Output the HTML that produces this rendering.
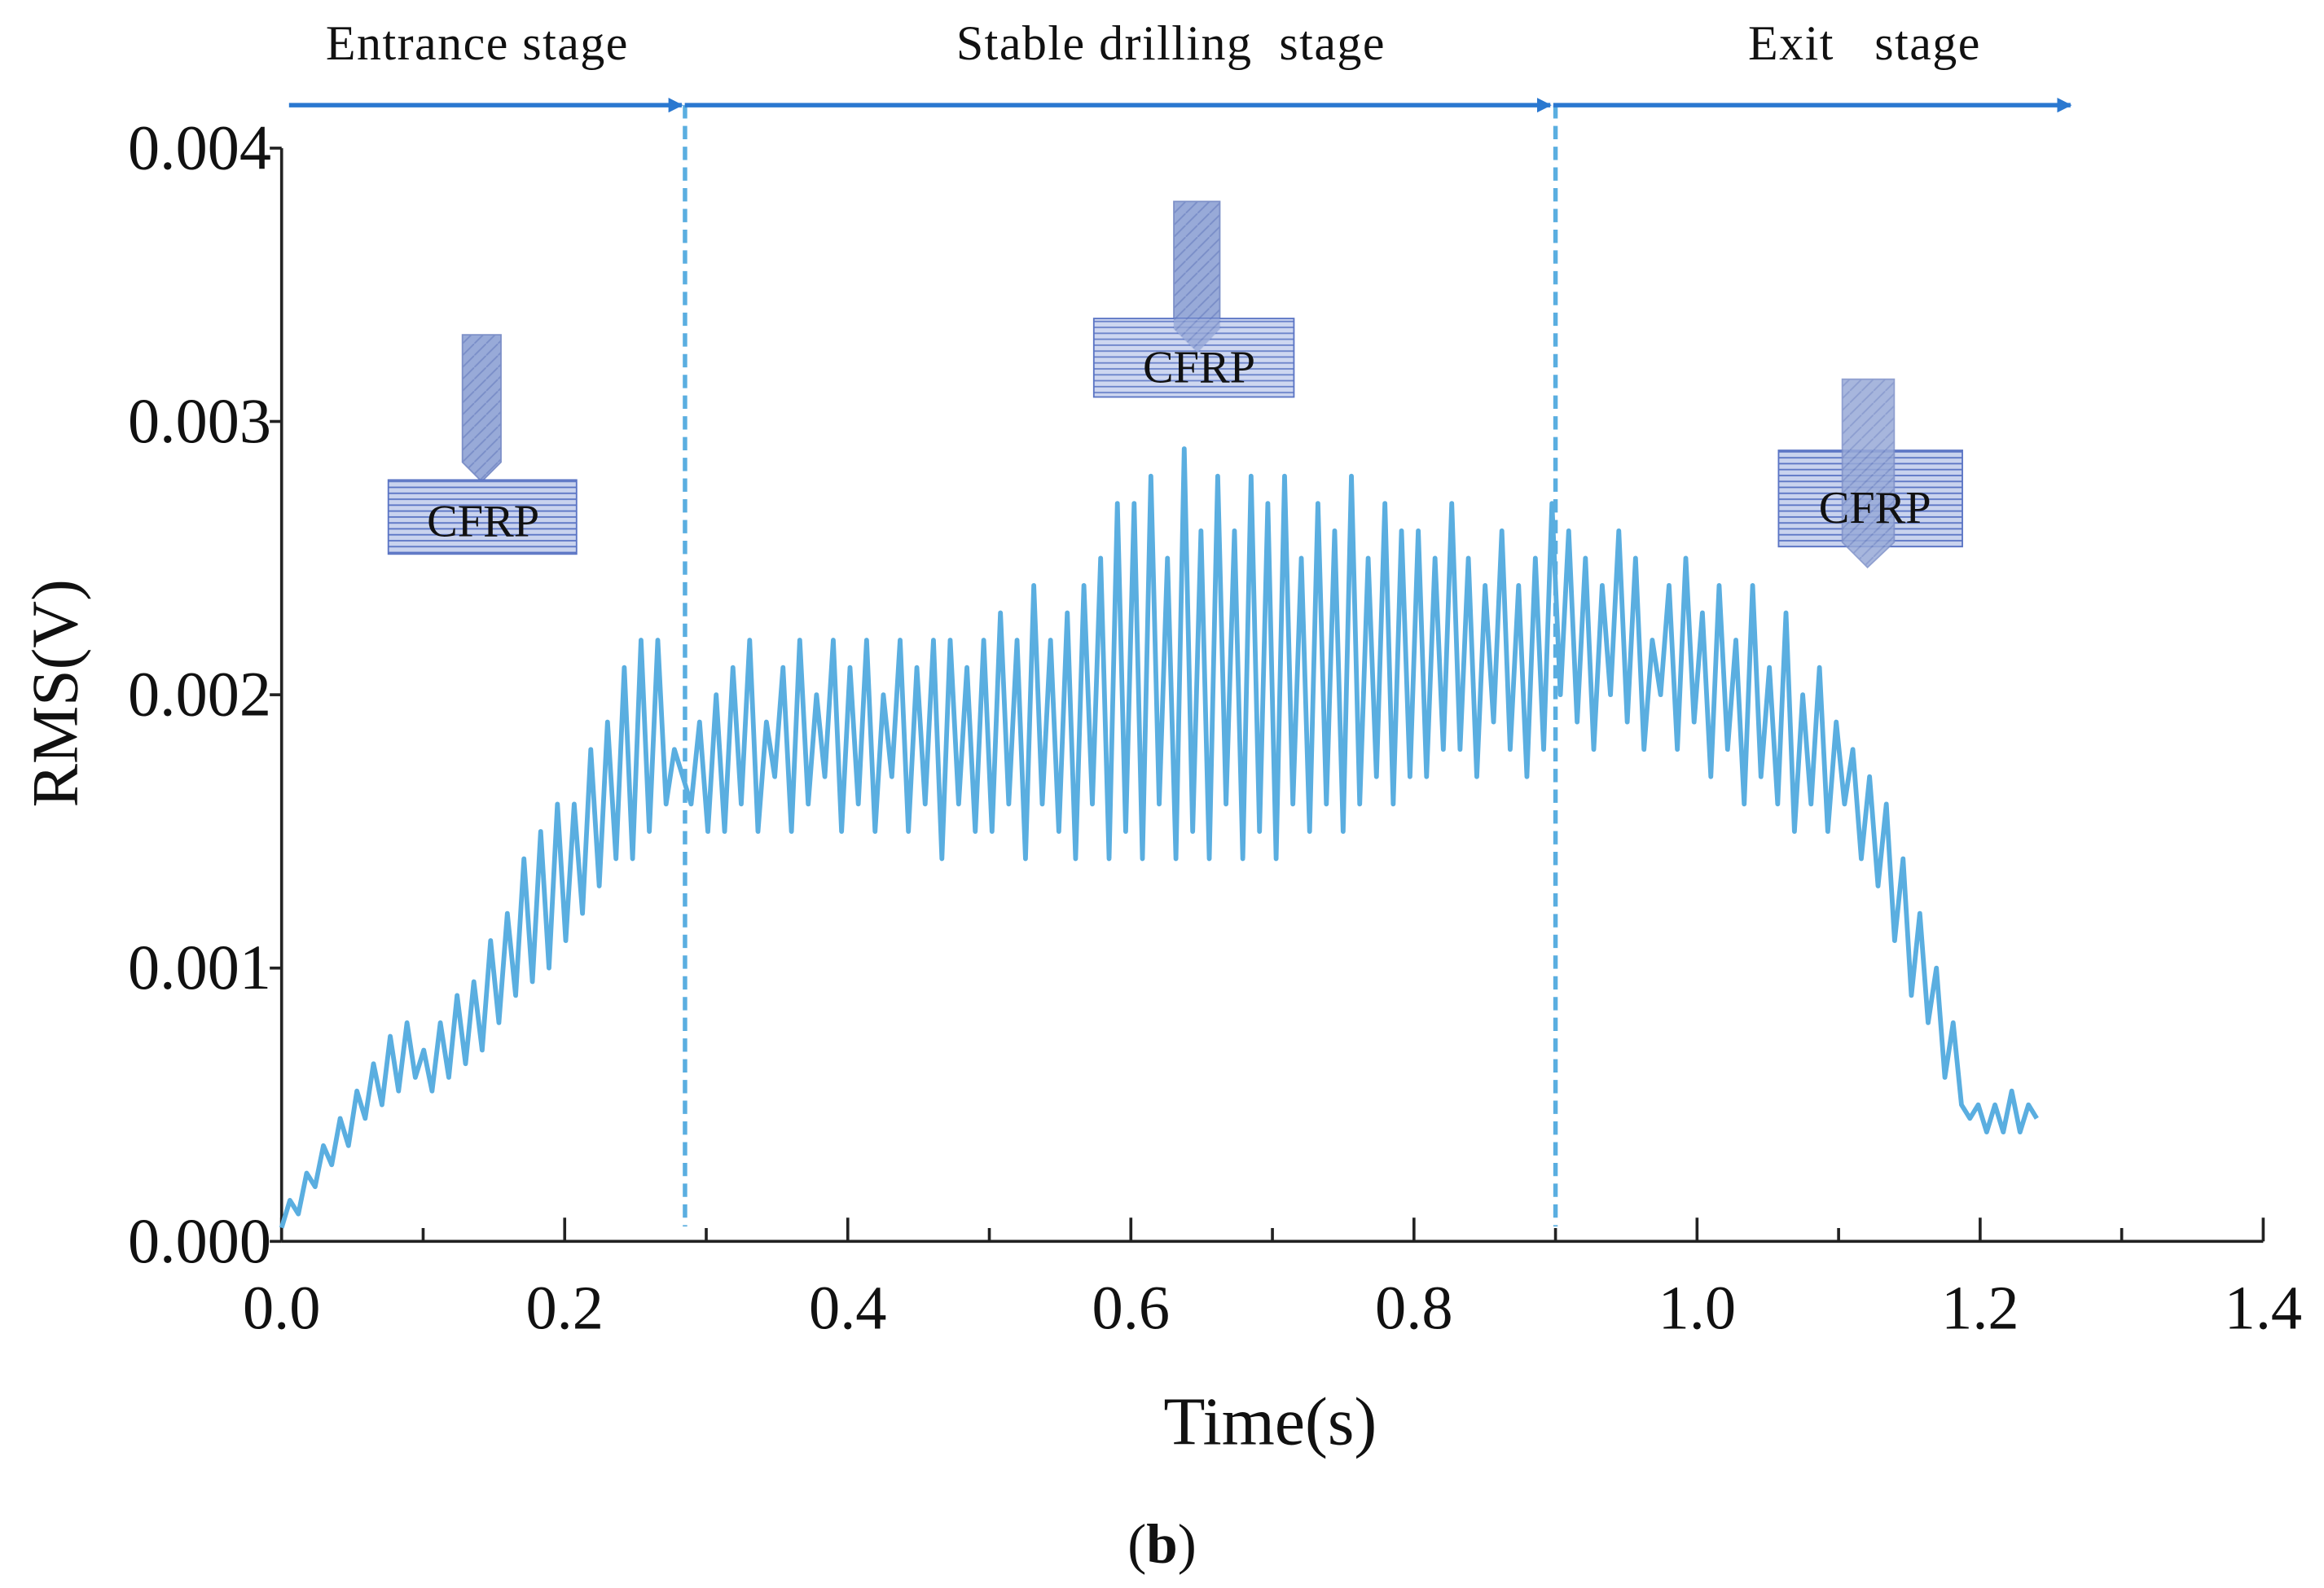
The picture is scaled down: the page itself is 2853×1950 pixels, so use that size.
<!DOCTYPE html>
<html><head><meta charset="utf-8"><style>
html,body{margin:0;padding:0;background:#fff;}
svg{display:block;}
text{font-family:"Liberation Serif",serif;fill:#111;}
</style></head><body>
<svg width="2853" height="1950" viewBox="0 0 1568 1072" preserveAspectRatio="none" xmlns="http://www.w3.org/2000/svg">
<defs>
<pattern id="hl" width="6" height="4" patternUnits="userSpaceOnUse"><rect width="6" height="4" fill="#c9d3ee"/><line x1="0" y1="1" x2="6" y2="1" stroke="#5a74c4" stroke-width="1"/></pattern>
<pattern id="dr" width="8" height="8" patternUnits="userSpaceOnUse"><rect width="8" height="8" fill="#98aad8"/><line x1="0" y1="8" x2="8" y2="0" stroke="#7a8ec8" stroke-width="1"/></pattern>
<marker id="ah" markerWidth="10" markerHeight="10" refX="9" refY="5" orient="auto" markerUnits="userSpaceOnUse"><path d="M0,0 L18,5 L0,10 z" transform="scale(0.55,1)" fill="#2a78d0"/></marker>
</defs>
<g id="axes"></g>
<g id="plot"></g>
<g>
<line x1="195" y1="71" x2="460" y2="71" stroke="#2a78d0" stroke-width="3" marker-end="url(#ah)"/>
<line x1="462" y1="71" x2="1046" y2="71" stroke="#2a78d0" stroke-width="3" marker-end="url(#ah)"/>
<line x1="1048" y1="71" x2="1397" y2="71" stroke="#2a78d0" stroke-width="3" marker-end="url(#ah)"/>
<text x="322" y="40" font-size="33" letter-spacing="0.8" text-anchor="middle">Entrance stage</text>
<text x="790" y="40" font-size="33" letter-spacing="0.8" text-anchor="middle" xml:space="preserve">Stable drilling  stage</text>
<text x="1258" y="40" font-size="33" letter-spacing="0.8" text-anchor="middle" xml:space="preserve">Exit   stage</text>
</g>
<g>
<path d="M312,226 L338,226 L338,312 L325,325 L312,312 Z" fill="url(#dr)" stroke="#7d90c8"/>
<rect x="262" y="324" width="127" height="50" fill="url(#hl)" stroke="#5a74c4"/>
<text x="326" y="362" font-size="31" text-anchor="middle">CFRP</text>
</g>
<g>
<path d="M792,136 L823,136 L823,222 L808,238 L792,222 Z" fill="url(#dr)" stroke="#7d90c8"/>
<rect x="738" y="215" width="135" height="53" fill="url(#hl)" fill-opacity="0.9" stroke="#5a74c4"/>
<path d="M792,215 L823,215 L823,222 L808,238 L792,222 Z" fill="url(#dr)" opacity="0.8"/>
<text x="809" y="258" font-size="31" text-anchor="middle">CFRP</text>
</g>
<g>
<rect x="1200" y="304" width="124" height="65" fill="url(#hl)" stroke="#5a74c4"/>
<path d="M1243,256 L1278,256 L1278,366 L1260,383 L1243,366 Z" fill="url(#dr)" opacity="0.85" stroke="#7d90c8"/>
<text x="1265" y="353" font-size="31" text-anchor="middle">CFRP</text>
</g>
<text x="857" y="975" font-size="46" text-anchor="middle">Time(s)</text>
<text x="0" y="0" font-size="44" text-anchor="middle" transform="translate(52,468) rotate(-90)">RMS(V)</text>
<text x="784" y="1055" font-size="38" text-anchor="middle">(<tspan font-weight="bold">b</tspan>)</text>
</svg>
<script>
const rmsValues = [
0.5,1.5,1,2.5,2,3.5,2.8,4.5,3.5,5.5,4.5,6.5,5,7.5,5.5,8,6,
7,5.5,8,6,9,6.5,9.5,7,11,8,12,9,14,9.5,15,10,16,
11,16,12,18,13,19,14,21,14,22,15,22,16,18,17,16,19,
15,20,15,21,16,22,15,19,17,21,15,22,16,20,17,22,15,
21,16,22,15,20,17,22,15,21,16,22,14,22,16,21,15,22,
15,23,16,22,14,24,16,22,15,23,14,24,16,25,14,27,15,
27,14,28,16,25,14,29,15,26,14,28,16,26,14,28,15,27,
14,28,16,25,15,27,16,26,15,28,16,25,17,27,16,26,17,
26,17,25,18,27,18,25,17,24,19,26,18,24,17,25,18,27,
20,26,19,25,18,24,20,26,19,25,18,22,20,24,18,25,19,
23,17,24,18,22,16,24,17,21,16,23,15,20,16,21,15,19,
16,18,14,17,13,16,11,14,9,12,8,10,6,8,5,4.5,5,
4,5,4,5.5,4,5,4.5];
const tEnd = 1.24;
const xTicks = [0,0.2,0.4,0.6,0.8,1.0,1.2,1.4];
const xTickLabels = ["0.0","0.2","0.4","0.6","0.8","1.0","1.2","1.4"];
const yTicks = [0,0.001,0.002,0.003,0.004];
const yTickLabels = ["0.000","0.001","0.002","0.003","0.004"];
const stageBoundaries = [0.285,0.9];

const X0=190,X1=1527,Y0=838,Y1=100;
const xS=t=>X0+(t/1.4)*(X1-X0);
const yS=v=>Y0-(v/0.004)*(Y0-Y1);
const NS="http://www.w3.org/2000/svg";
function mk(tag,attrs,parent){const e=document.createElementNS(NS,tag);for(const k in attrs)e.setAttribute(k,attrs[k]);parent.appendChild(e);return e;}
const ax=document.getElementById('axes'), pl=document.getElementById('plot');
const xl=mk('line',{x1:X0,y1:Y0,x2:X1,y2:Y0,stroke:'#222','stroke-width':2},ax);


const yl=mk('line',{x1:X0,y1:Y0,x2:X0,y2:Y1,stroke:'#222','stroke-width':2},ax);


xTicks.forEach((t,i)=>{
  const x=xS(t);
  const tk=mk('line',{x1:x,y1:Y0,x2:x,y2:Y0-16,stroke:'#222','stroke-width':2},ax);
  
  
  if(i<xTicks.length-1){const m=mk('line',{x1:xS(t+0.1),y1:Y0,x2:xS(t+0.1),y2:Y0-9,stroke:'#222','stroke-width':2},ax);
  
  }
  const tx=mk('text',{x:x,y:897,'font-size':42,'text-anchor':'middle'},ax);
  tx.textContent=xTickLabels[i];
  
  
});
yTicks.forEach((v,i)=>{
  const y=yS(v);
  const tk=mk('line',{x1:X0-8,y1:y,x2:X0,y2:y,stroke:'#222','stroke-width':2},ax);
  
  
  const tx=mk('text',{x:183,y:y+14,'font-size':43,'text-anchor':'end'},ax);
  tx.textContent=yTickLabels[i];
  
  
});
stageBoundaries.forEach(t=>{
  const l=mk('line',{x1:xS(t),y1:71,x2:xS(t),y2:828,stroke:'#5aaee0','stroke-width':3,'stroke-dasharray':'9,5'},pl);
  
  
});
const n=rmsValues.length;
const pts=rmsValues.map((v,i)=>xS(i*tEnd/(n-1)).toFixed(1)+','+yS(v*1e-4).toFixed(1)).join(' ');
const line=mk('polyline',{points:pts,fill:'none',stroke:'#5aaee0','stroke-width':3.2,'stroke-linejoin':'round'},pl);


</script>
</body></html>
